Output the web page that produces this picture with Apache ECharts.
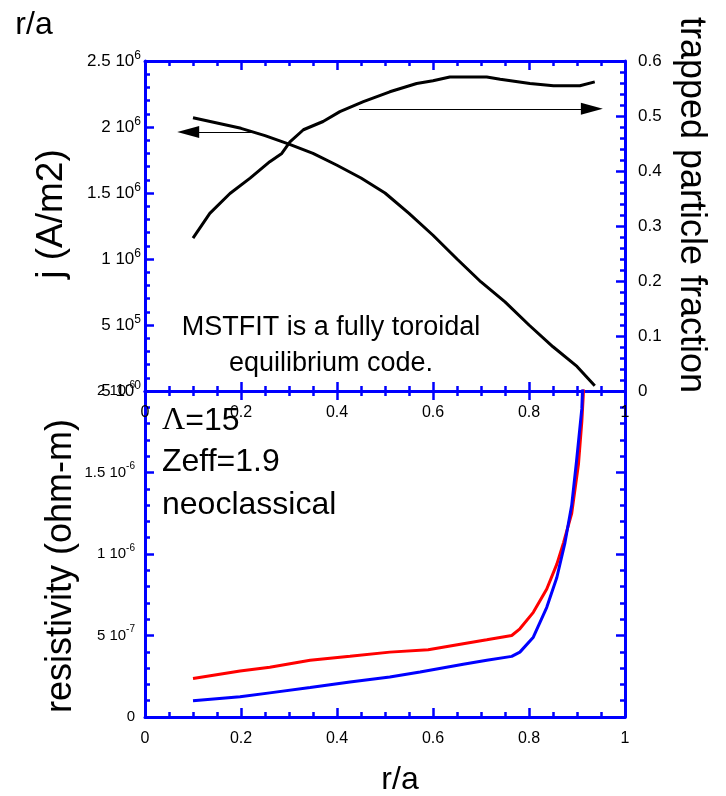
<!DOCTYPE html>
<html>
<head>
<meta charset="utf-8">
<script src="https://cdn.jsdelivr.net/npm/echarts@6/dist/echarts.min.js"></script>
<style>
html, body { margin: 0; padding: 0; background: #fff; }
#chart { width: 726px; height: 796px; }
</style>
</head>
<body>
<div id="chart"></div>
<script>
// top panel: current density (left axis) and trapped particle fraction (right axis)
const jX = [0.1, 0.15, 0.2, 0.25, 0.3, 0.35, 0.4, 0.45, 0.5, 0.55, 0.6, 0.65, 0.7, 0.75, 0.8, 0.85, 0.9, 0.937];
const jCurrent = [2.07e6, 2.03e6, 1.99e6, 1.935e6, 1.87e6, 1.80e6, 1.71e6, 1.614e6, 1.50e6, 1.345e6, 1.18e6, 1.0e6, 0.826e6, 0.675e6, 0.5e6, 0.335e6, 0.186e6, 0.04e6];
const trapX = [0.1, 0.135, 0.177, 0.219, 0.26, 0.285, 0.302, 0.33, 0.371, 0.406, 0.455, 0.51, 0.566, 0.6, 0.635, 0.712, 0.74, 0.802, 0.851, 0.906, 0.937];
const trapFraction = [0.278, 0.323, 0.359, 0.387, 0.417, 0.432, 0.453, 0.475, 0.49, 0.508, 0.526, 0.544, 0.559, 0.564, 0.571, 0.571, 0.567, 0.559, 0.555, 0.555, 0.562];

// bottom panel: resistivity
const etaRedX = [0.1, 0.198, 0.26, 0.344, 0.427, 0.51, 0.59, 0.663, 0.712, 0.764, 0.781, 0.809, 0.837, 0.858, 0.872, 0.889, 0.903, 0.91, 0.913, 0.916];
const etaRed = [2.36e-7, 2.82e-7, 3.05e-7, 3.48e-7, 3.72e-7, 3.98e-7, 4.12e-7, 4.5e-7, 4.74e-7, 5.0e-7, 5.41e-7, 6.42e-7, 7.85e-7, 9.38e-7, 1.07e-6, 1.25e-6, 1.55e-6, 1.81e-6, 1.97e-6, 2.2e-6];
const etaBlueX = [0.1, 0.198, 0.26, 0.344, 0.427, 0.51, 0.573, 0.663, 0.712, 0.764, 0.781, 0.809, 0.837, 0.858, 0.875, 0.889, 0.899, 0.91, 0.914];
const etaBlue = [0.99e-7, 1.24e-7, 1.48e-7, 1.81e-7, 2.15e-7, 2.46e-7, 2.76e-7, 3.23e-7, 3.48e-7, 3.72e-7, 3.98e-7, 4.9e-7, 6.73e-7, 8.56e-7, 1.07e-6, 1.30e-6, 1.57e-6, 1.89e-6, 2.2e-6];

// tick labels (mantissa, exponent)
const jTickBase = ['5', '5', '1', '1.5', '2', '2.5'];
const jTickExp = ['0', '5', '6', '6', '6', '6'];
const etaTickBase = ['0', '5', '1', '1.5', '2'];
const etaTickExp = ['', '-7', '-6', '-6', '-6'];

// arrows: [x start, x end, y]
const arrowToJ = [0.225, 0.09, 1.962e6];
const arrowToTrap = [0.446, 0.931, 0.513];

const BLUE = '#0000ff';
const FONT = '"Liberation Sans", Arial, sans-serif';

function pairs(xs, ys) {
	return xs.map((x, i) => [x, ys[i]]);
}

function supLabel(base, exp) {
	if (exp === '') return '{b|' + base + '}';
	return '{b|' + base + ' 10}{s|' + exp + '}';
}

function frameAxis(extra) {
	return Object.assign({
		type: 'value',
		axisLine: { show: true, onZero: false, lineStyle: { color: BLUE, width: 3 } },
		axisTick: { show: true, inside: true, length: 9, lineStyle: { color: BLUE, width: 2.5 } },
		minorTick: { show: true, splitNumber: 5, length: 5, lineStyle: { color: BLUE, width: 2.5 } },
		splitLine: { show: false },
		minorSplitLine: { show: false },
		axisLabel: { show: false },
	}, extra);
}

const xExtra = (grid, pos, label) => ({
	gridIndex: grid, position: pos, min: 0, max: 1, interval: 0.2,
	minorTick: { show: true, splitNumber: 4, length: 5, lineStyle: { color: BLUE, width: 2.5 } },
	axisLabel: label
		? { show: true, margin: 14, color: '#000', fontSize: 16, fontFamily: FONT }
		: { show: false },
});

const supRich = (size) => ({
	b: { fontSize: size, fontFamily: FONT, color: '#000', lineHeight: 22 },
	s: { fontSize: Math.round(size * 0.68), fontFamily: FONT, color: '#000', verticalAlign: 'top', lineHeight: 12 },
});

const chart = echarts.init(document.getElementById('chart'));

chart.setOption({
	animation: false,
	backgroundColor: '#fff',
	grid: [
		{ left: 145, top: 61, width: 480, height: 330 },
		{ left: 145, top: 391, width: 480, height: 326 },
	],
	xAxis: [
		frameAxis(xExtra(0, 'bottom', true)),
		frameAxis(xExtra(0, 'top', false)),
		frameAxis(xExtra(1, 'bottom', true)),
		frameAxis(xExtra(1, 'top', false)),
	],
	yAxis: [
		frameAxis({
			gridIndex: 0, position: 'left', min: 0, max: 2.5e6, interval: 5e5,
			axisLabel: {
				show: true, margin: 4,
				formatter: (v) => {
					const i = Math.round(v / 5e5);
					return supLabel(jTickBase[i], jTickExp[i]);
				},
				rich: supRich(17),
			},
		}),
		frameAxis({
			gridIndex: 0, position: 'right', min: 0, max: 0.6, interval: 0.1,
			axisLabel: { show: true, margin: 13, color: '#000', fontSize: 17, fontFamily: FONT },
		}),
		frameAxis({
			gridIndex: 1, position: 'left', min: 0, max: 2e-6, interval: 5e-7,
			axisLabel: {
				show: true, margin: 10,
				formatter: (v) => {
					const i = Math.round(v / 5e-7);
					return supLabel(etaTickBase[i], etaTickExp[i]);
				},
				rich: supRich(15),
			},
		}),
		frameAxis({ gridIndex: 1, position: 'right', min: 0, max: 2e-6, interval: 5e-7 }),
	],
	series: [
		{
			name: 'j',
			type: 'line',
			xAxisIndex: 0,
			yAxisIndex: 0,
			data: pairs(jX, jCurrent),
			showSymbol: false,
			lineStyle: { color: '#000', width: 3 },
			markLine: {
				silent: true,
				symbol: ['none', 'triangle'],
				symbolSize: [12, 22],
				label: { show: false },
				lineStyle: { color: '#000', width: 1.2, type: 'solid' },
				data: [[{ coord: [arrowToJ[0], arrowToJ[2]] }, { coord: [arrowToJ[1], arrowToJ[2]] }]],
			},
		},
		{
			name: 'trapped',
			type: 'line',
			xAxisIndex: 0,
			yAxisIndex: 1,
			data: pairs(trapX, trapFraction),
			showSymbol: false,
			lineStyle: { color: '#000', width: 3 },
			markLine: {
				silent: true,
				symbol: ['none', 'triangle'],
				symbolSize: [12, 22],
				label: { show: false },
				lineStyle: { color: '#000', width: 1.2, type: 'solid' },
				data: [[{ coord: [arrowToTrap[0], arrowToTrap[2]] }, { coord: [arrowToTrap[1], arrowToTrap[2]] }]],
			},
		},
		{
			name: 'eta red',
			type: 'line',
			xAxisIndex: 2,
			yAxisIndex: 2,
			data: pairs(etaRedX, etaRed),
			showSymbol: false,
			clip: true,
			lineStyle: { color: '#ff0000', width: 3 },
		},
		{
			name: 'eta blue',
			type: 'line',
			xAxisIndex: 2,
			yAxisIndex: 2,
			data: pairs(etaBlueX, etaBlue),
			showSymbol: false,
			clip: true,
			lineStyle: { color: BLUE, width: 3 },
		},
	],
	graphic: [
		{ type: 'text', x: 34, y: 25, style: { text: 'r/a', fontSize: 32, fontFamily: FONT, fill: '#000', align: 'center', verticalAlign: 'middle' } },
		{ type: 'text', x: 400, y: 780, style: { text: 'r/a', fontSize: 32, fontFamily: FONT, fill: '#000', align: 'center', verticalAlign: 'middle' } },
		{ type: 'text', x: 52, y: 214, rotation: Math.PI / 2, style: { text: 'j (A/m2)', fontSize: 37, fontFamily: FONT, fill: '#000', align: 'center', verticalAlign: 'middle' } },
		{ type: 'text', x: 61, y: 566, rotation: Math.PI / 2, style: { text: 'resistivity (ohm-m)', fontSize: 36, fontFamily: FONT, fill: '#000', align: 'center', verticalAlign: 'middle' } },
		{ type: 'text', x: 691, y: 205, rotation: -Math.PI / 2, style: { text: 'trapped particle fraction', fontSize: 36, fontFamily: FONT, fill: '#000', align: 'center', verticalAlign: 'middle' } },
		{ type: 'text', x: 331, y: 328, style: { text: 'MSTFIT is a fully toroidal', fontSize: 27, fontFamily: FONT, fill: '#000', align: 'center', verticalAlign: 'middle' } },
		{ type: 'text', x: 331, y: 364, style: { text: 'equilibrium code.', fontSize: 27, fontFamily: FONT, fill: '#000', align: 'center', verticalAlign: 'middle' } },
		{
			type: 'text', x: 162, y: 421,
			style: {
				text: '{g|Λ}{t|=15}', align: 'left', verticalAlign: 'middle',
				rich: {
					g: { fontSize: 32, fontFamily: '"Liberation Serif", "Times New Roman", serif', fill: '#000' },
					t: { fontSize: 32, fontFamily: FONT, fill: '#000' },
				},
			},
		},
		{ type: 'text', x: 162, y: 462, style: { text: 'Zeff=1.9', fontSize: 32, fontFamily: FONT, fill: '#000', align: 'left', verticalAlign: 'middle' } },
		{ type: 'text', x: 162, y: 505, style: { text: 'neoclassical', fontSize: 32, fontFamily: FONT, fill: '#000', align: 'left', verticalAlign: 'middle' } },
	],
});
</script>
</body>
</html>
